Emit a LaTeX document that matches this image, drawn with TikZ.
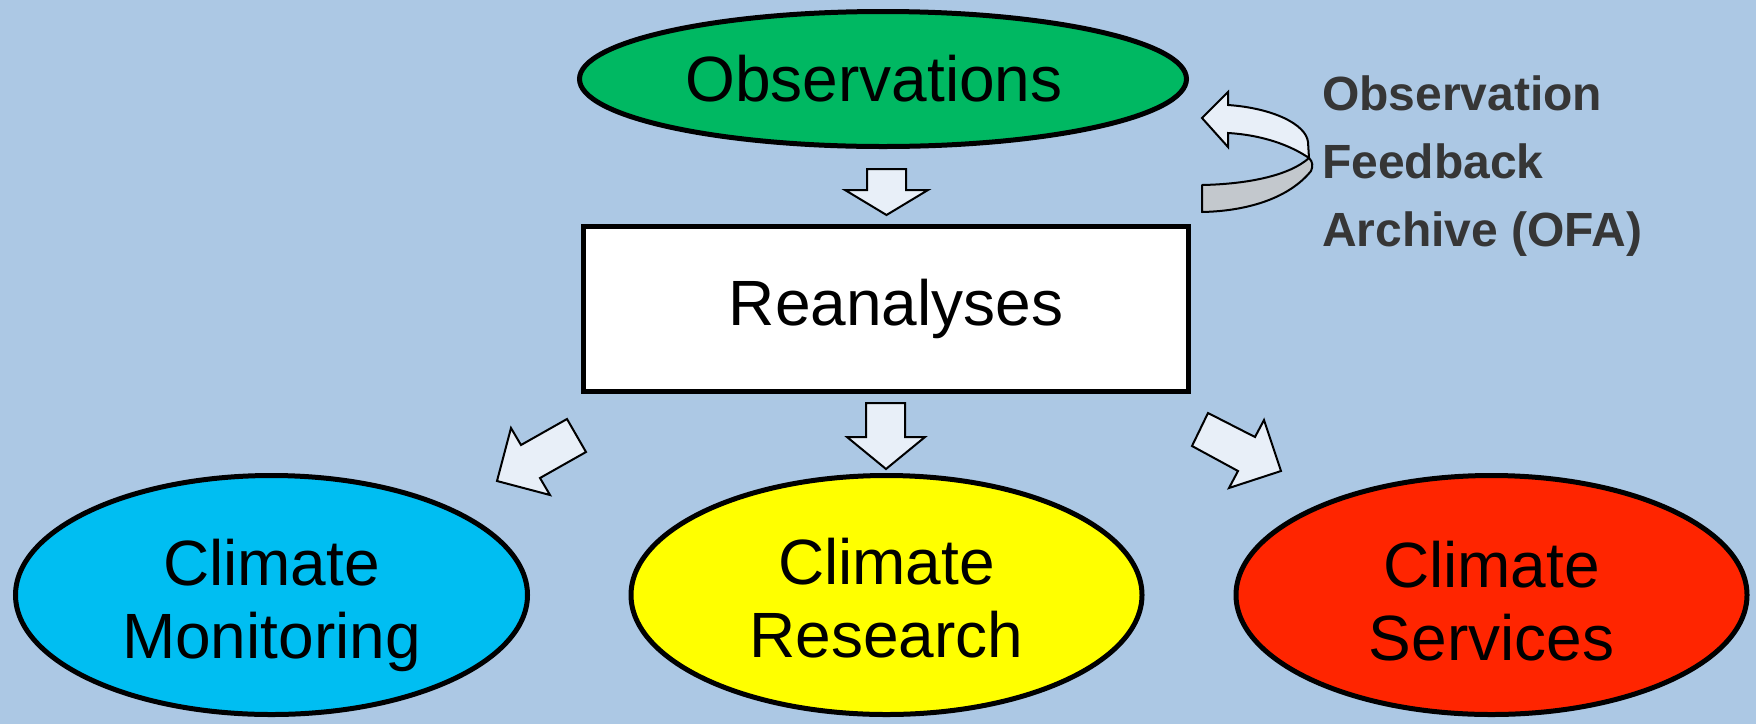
\documentclass[tikz,border=0pt]{standalone}
\usepackage{fontspec}
\setmainfont{Liberation Sans}
\usetikzlibrary{shapes.geometric}
\definecolor{bgblue}{HTML}{ACC8E4}
\definecolor{obsgreen}{HTML}{00B862}
\definecolor{monblue}{HTML}{00BEF2}
\definecolor{resyellow}{HTML}{FFFF00}
\definecolor{servred}{HTML}{FF2500}
\definecolor{arrowfill}{HTML}{E8EFF8}
\definecolor{arrowgrey}{HTML}{C3C8CD}
\definecolor{ofagrey}{HTML}{363636}
\tikzset{
  bigtext/.style={font=\fontsize{64}{73}\selectfont, text=black},
  oval/.style={ellipse, draw=black, line width=5pt, inner sep=0pt, outer sep=0pt},
  blockarrow/.style={draw=black, line width=2pt, fill=arrowfill, line join=miter},
  twoline/.style={bigtext, align=center, inner sep=0pt}
}
\begin{document}
\begin{tikzpicture}[x=1pt, y=-1pt]
\fill[bgblue] (0,0) rectangle (1756,724);
\useasboundingbox (0,0) rectangle (1756,724);

% main nodes
\node[oval, fill=obsgreen, minimum width=607pt, minimum height=135pt, bigtext] (obs) at (883,79) {Observations\rule{18pt}{0pt}};
\node[draw=black, line width=5pt, fill=white, minimum width=605pt, minimum height=165pt, inner sep=0pt, bigtext] (rean) at (886,309) {\hspace{20pt}Reanalyses};

\node[oval, fill=monblue, minimum width=512pt, minimum height=239pt] (mon) at (271.5,595) {};
\node[oval, fill=resyellow, minimum width=511pt, minimum height=239pt] (res) at (886.5,595) {};
\node[oval, fill=servred, minimum width=511pt, minimum height=239pt] (serv) at (1491.5,595) {};

\node[twoline] (montext) at (271.5,608) {\rule{0pt}{50pt}Climate\\Monitoring\rule[-22pt]{0pt}{0pt}};
\node[twoline] (restext) at (886.5,607) {\rule{0pt}{50pt}Climate\\Research\rule[-22pt]{0pt}{0pt}};
\node[twoline] (servtext) at (1491.5,610) {\rule{0pt}{50pt}Climate\\Services\rule[-22pt]{0pt}{0pt}};

% block arrows
\draw[blockarrow] (867,169) -- (906,169) -- (906,190) -- (928,190) -- (886.5,215) -- (845,190) -- (867,190) -- cycle;
\draw[blockarrow] (866,403) -- (905,403) -- (905,437) -- (925,437) -- (886,469) -- (847,437) -- (866,437) -- cycle;
\draw[blockarrow] (567,419) -- (586,452) -- (540,478) -- (550,495) -- (497,481) -- (511,428) -- (521,445) -- cycle;
\draw[blockarrow] (1208,413) -- (1255,437) -- (1264,420) -- (1281,471) -- (1229,488) -- (1238,471) -- (1192,446) -- cycle;

% curved feedback arrow
\draw[draw=black, line width=2pt, fill=arrowgrey, line join=round]
  (1202,185) .. controls (1250,184) and (1290,175) .. (1309,158)
  .. controls (1313,162) and (1313,166) .. (1311,171)
  .. controls (1290,197) and (1250,211) .. (1202,212) -- cycle;
\draw[draw=black, line width=2pt, fill=arrowfill, line join=miter]
  (1228,105) .. controls (1272,108) and (1306,124) .. (1308,142)
  -- (1309,158)
  .. controls (1290,145) and (1262,135) .. (1228,133)
  -- (1228,147) -- (1202,118) -- (1228,92) -- cycle;

\node[anchor=west, inner sep=0pt, align=left, text=ofagrey, font=\fontsize{48}{68}\selectfont\bfseries] (ofa) at (1322,166)
  {Observation\\Feedback\\Archive (OFA)};
\end{tikzpicture}
\end{document}
